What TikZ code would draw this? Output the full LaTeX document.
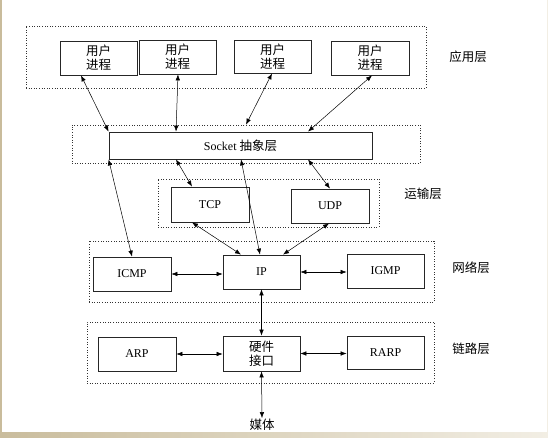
\documentclass[tikz,border=0pt]{standalone}
\usepackage{fontspec}
\setmainfont{Liberation Serif}
\newfontfamily\cjk{Noto Sans CJK SC}
\usetikzlibrary{arrows.meta}
\definecolor{beige}{HTML}{C9BC9C}
\definecolor{beigelight}{HTML}{F2EEE4}
\definecolor{frameline}{HTML}{333333}
\begin{document}
\begin{tikzpicture}[x=1pt,y=-1pt,
  font=\fontsize{12}{14}\selectfont,
  procbox/.style={draw=black!85,line width=0.8pt,minimum width=77pt,minimum height=34pt,inner sep=0pt,align=center,fill=white},
  cjkbox/.style={procbox,font=\cjk\fontsize{12.5}{14}\selectfont},
  layerframe/.style={draw=frameline,line width=0.7pt,dash pattern=on 1pt off 1.6pt},
  link/.style={line width=0.5pt,{Latex[length=6pt,width=4.5pt]}-{Latex[length=6pt,width=4.5pt]}},
  layerlabel/.style={font=\cjk\fontsize{12.5}{14}\selectfont,inner sep=0pt}]
% canvas
\fill[white] (0,0) rectangle (548,437);
\useasboundingbox (0,0) rectangle (548,437);
\fill[beige] (0,0) rectangle (1.5,437);
\fill[beigelight] (546.5,0) rectangle (548,437);
\shade[left color=beige,right color=beigelight] (0,432) rectangle (548,437);
% layer frames
\node[layerframe,minimum width=400pt,minimum height=62pt,inner sep=0pt] (appf) at (226,57) {};
\node[layerframe,minimum width=348pt,minimum height=38pt,inner sep=0pt] (sockf) at (246,144) {};
\node[layerframe,minimum width=221pt,minimum height=48pt,inner sep=0pt] (transf) at (268.5,203) {};
\node[layerframe,minimum width=345pt,minimum height=61pt,inner sep=0pt] (netf) at (261.5,271.5) {};
\node[layerframe,minimum width=347pt,minimum height=61pt,inner sep=0pt] (linkf) at (260.5,352.5) {};
% layer labels
\node[layerlabel] (lapp) at (468,57) {应用层};
\node[layerlabel] (ltrans) at (423,194) {运输层};
\node[layerlabel] (lnet) at (471,268) {网络层};
\node[layerlabel] (llink) at (471,349) {链路层};
% application processes
\node[cjkbox] (u1) at (98.5,58) {用户\\进程};
\node[cjkbox] (u2) at (177.5,57) {用户\\进程};
\node[cjkbox,minimum height=33pt] (u3) at (272.5,56.5) {用户\\进程};
\node[cjkbox,minimum width=78pt] (u4) at (370,58) {用户\\进程};
% socket
\node[procbox,minimum width=263pt,minimum height=27pt] (sock) at (240.5,145.5) {Socket {\cjk\fontsize{12.5}{14}\selectfont 抽象层}};
% transport
\node[procbox,minimum width=78pt,minimum height=35pt] (tcp) at (210,204.5) {TCP};
\node[procbox,minimum width=78pt] (udp) at (330,206) {UDP};
% network
\node[procbox,minimum width=78pt] (icmp) at (132,274) {ICMP};
\node[procbox] (ip) at (261.5,272) {IP};
\node[procbox] (igmp) at (385.5,271) {IGMP};
% link
\node[procbox,minimum width=78pt] (arp) at (137,354) {ARP};
\node[cjkbox,minimum height=35pt] (hw) at (261.5,353.5) {硬件\\接口};
\node[procbox,minimum height=33pt] (rarp) at (385.5,352.5) {RARP};
\node[inner sep=1pt,font=\cjk\fontsize{12.5}{14}\selectfont] (media) at (262,425) {媒体};
% connectors: applications <-> socket
\draw[link] ([xshift=-17.5pt]u1.south) -- (sock.north west);
\draw[link] ([xshift=0.5pt]u2.south) -- ([xshift=-64.5pt]sock.north);
\draw[link] ([xshift=-0.5pt]u3.south) -- (sockf.north);
\draw[link] ([xshift=2pt]u4.south) -- ([xshift=67.5pt]sock.north);
% socket <-> lower layers
\draw[link] (sock.south west) -- (icmp.north);
\draw[link] ([xshift=-64.5pt]sock.south) -- ([xshift=-18pt]tcp.north);
\draw[link] ([xshift=0.5pt]sock.south) -- ([xshift=-1.5pt]ip.north);
\draw[link] ([xshift=67.5pt]sock.south) -- (udp.north);
% transport <-> IP
\draw[link] ([xshift=-18pt]tcp.south) -- ([xshift=-20.5pt]ip.north);
\draw[link] ([xshift=-1pt]udp.south) -- ([xshift=21.5pt]ip.north);
% network layer
\draw[link] (icmp.east) -- (icmp.east -| ip.west);
\draw[link] (ip.east) -- (ip.east -| igmp.west);
\draw[link] (ip.south) -- (hw.north);
% link layer
\draw[link] (arp.east) -- (arp.east -| hw.west);
\draw[link] (hw.east) -- (hw.east -| rarp.west);
\draw[link] (hw.south) -- (media.north);
\end{tikzpicture}
\end{document}
